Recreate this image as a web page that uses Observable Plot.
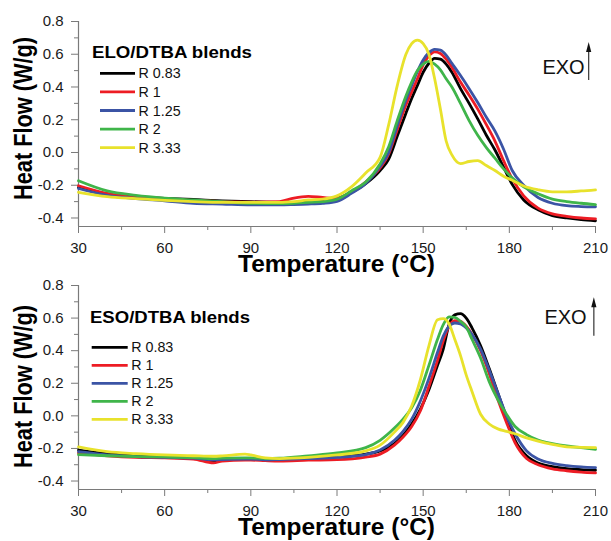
<!DOCTYPE html>
<html><head><meta charset="utf-8">
<script src="https://cdn.jsdelivr.net/npm/d3@7"></script>
<script src="https://cdn.jsdelivr.net/npm/@observablehq/plot@0.6"></script>
<style>
html,body{margin:0;padding:0;background:#fff;}
#wrap{position:relative;width:611px;height:541px;overflow:hidden;background:#fff;}
</style></head><body><div id="wrap"></div>
<script>
// ---------- data ----------
const series = ["R 0.83", "R 1", "R 1.25", "R 2", "R 3.33"];
const colors = ["#000000", "#ed1c24", "#3b54a5", "#3fb54a", "#e8e22c"];

const xTicks = [30, 60, 90, 120, 150, 180, 210];
const xMinor = [45, 75, 105, 135, 165, 195];
const yTicks = [-0.4, -0.2, 0.0, 0.2, 0.4, 0.6, 0.8];
const yMinor = [-0.3, -0.1, 0.1, 0.3, 0.5, 0.7];

// ELO/DTBA panel
const eloTemps = [30,40,50,60,70,80,90,100,105,110,115,120,125,130,135,138,141,144,146,148,150,152,154,156,158,160,163,166,169,172,175,178,181,185,190,195,200,205,210];
const eloR083 = [-0.213,-0.255,-0.272,-0.280,-0.287,-0.295,-0.300,-0.305,-0.305,-0.303,-0.298,-0.282,-0.245,-0.190,-0.110,-0.040,0.100,0.240,0.330,0.410,0.490,0.545,0.575,0.570,0.540,0.490,0.390,0.300,0.205,0.105,0.015,-0.090,-0.195,-0.290,-0.350,-0.385,-0.400,-0.410,-0.417];
const eloR1   = [-0.203,-0.250,-0.275,-0.285,-0.293,-0.300,-0.303,-0.300,-0.278,-0.268,-0.275,-0.280,-0.240,-0.180,-0.095,-0.010,0.140,0.290,0.370,0.450,0.535,0.590,0.615,0.605,0.570,0.520,0.430,0.350,0.265,0.170,0.070,-0.050,-0.160,-0.265,-0.340,-0.375,-0.390,-0.400,-0.405];
const eloR125 = [-0.220,-0.262,-0.282,-0.295,-0.310,-0.315,-0.320,-0.320,-0.318,-0.315,-0.310,-0.298,-0.250,-0.190,-0.085,0.000,0.165,0.320,0.410,0.495,0.565,0.610,0.630,0.625,0.595,0.545,0.470,0.390,0.305,0.215,0.130,0.020,-0.110,-0.200,-0.275,-0.310,-0.325,-0.330,-0.332];
const eloR2   = [-0.173,-0.235,-0.262,-0.279,-0.290,-0.300,-0.310,-0.312,-0.310,-0.305,-0.300,-0.285,-0.235,-0.180,-0.070,0.035,0.195,0.345,0.430,0.500,0.540,0.556,0.540,0.505,0.450,0.400,0.300,0.195,0.105,0.030,-0.035,-0.100,-0.155,-0.210,-0.252,-0.285,-0.300,-0.310,-0.318];
const eloR333 = [-0.243,-0.270,-0.282,-0.292,-0.300,-0.305,-0.305,-0.305,-0.300,-0.290,-0.285,-0.265,-0.210,-0.125,-0.030,0.170,0.410,0.600,0.665,0.686,0.665,0.600,0.450,0.265,0.070,-0.015,-0.068,-0.055,-0.050,-0.080,-0.110,-0.145,-0.170,-0.205,-0.228,-0.240,-0.240,-0.235,-0.228];

// ESO/DTBA panel
const esoTemps = [30,40,50,60,70,77,80,88,90,95,100,110,120,130,135,140,143,146,149,152,155,157,159,161,163,165,167,170,173,176,179,182,186,190,195,200,205,210];
const esoR083 = [-0.211,-0.232,-0.243,-0.250,-0.258,-0.277,-0.268,-0.262,-0.262,-0.268,-0.265,-0.260,-0.252,-0.235,-0.215,-0.170,-0.120,-0.050,0.040,0.160,0.310,0.410,0.560,0.620,0.627,0.600,0.540,0.430,0.290,0.140,-0.010,-0.150,-0.245,-0.290,-0.312,-0.324,-0.330,-0.334];
const esoR1   = [-0.227,-0.245,-0.255,-0.258,-0.265,-0.289,-0.278,-0.272,-0.272,-0.275,-0.277,-0.272,-0.269,-0.253,-0.235,-0.180,-0.130,-0.065,0.030,0.180,0.340,0.460,0.550,0.585,0.580,0.550,0.500,0.400,0.260,0.100,-0.040,-0.165,-0.262,-0.300,-0.325,-0.337,-0.345,-0.350];
const esoR125 = [-0.220,-0.240,-0.250,-0.255,-0.260,-0.270,-0.268,-0.265,-0.265,-0.270,-0.268,-0.262,-0.255,-0.238,-0.210,-0.150,-0.095,-0.020,0.090,0.230,0.390,0.490,0.550,0.570,0.565,0.540,0.500,0.410,0.280,0.140,0.000,-0.110,-0.215,-0.265,-0.292,-0.305,-0.313,-0.318];
const esoR2   = [-0.238,-0.245,-0.250,-0.252,-0.256,-0.262,-0.260,-0.258,-0.258,-0.262,-0.260,-0.245,-0.228,-0.195,-0.150,-0.075,-0.020,0.050,0.156,0.310,0.470,0.560,0.608,0.605,0.580,0.545,0.470,0.355,0.210,0.100,0.010,-0.065,-0.115,-0.148,-0.170,-0.185,-0.195,-0.205];
const esoR333 = [-0.191,-0.220,-0.232,-0.240,-0.245,-0.248,-0.246,-0.235,-0.240,-0.258,-0.262,-0.255,-0.240,-0.215,-0.180,-0.100,-0.040,0.060,0.220,0.430,0.590,0.597,0.565,0.470,0.370,0.250,0.150,0.010,-0.050,-0.080,-0.095,-0.110,-0.135,-0.155,-0.175,-0.190,-0.193,-0.195];

const panelTitles = ["ELO/DTBA blends", "ESO/DTBA blends"];
const xLabel = "Temperature (°C)";
const yLabel = "Heat Flow (W/g)";
const exoLabel = "EXO";

// ---------- drawing ----------
const FONT = "'Liberation Sans', Arial, Helvetica, sans-serif";
const AXIS = "#7a7a7a";
const yMin = -0.452;

function toRows(temps, lists) {
  const rows = [];
  series.forEach((s, i) => temps.forEach((t, j) => rows.push({T: t, v: lists[i][j], s})));
  return rows;
}

function makePanel(cfg) {
  const rows = toRows(cfg.temps, cfg.lists);
  const plot = Plot.plot({
    width: 611,
    height: cfg.height,
    marginLeft: 78,
    marginRight: 16,
    marginTop: cfg.marginTop,
    marginBottom: cfg.marginBottom,
    style: {fontFamily: FONT, fontSize: "15px", background: "transparent", overflow: "visible"},
    x: {domain: [30, 210]},
    y: {domain: [yMin, 0.8]},
    color: {domain: series, range: colors},
    marks: [
      Plot.axisX(xTicks, {tickSize: 7, tickPadding: 9, stroke: AXIS, fill: "#1a1a1a", label: null}),
      Plot.axisX(xMinor, {tickSize: 4, stroke: AXIS, fill: "none", label: null}),
      Plot.axisY(yTicks, {tickSize: 7, tickPadding: 8, stroke: AXIS, fill: "#1a1a1a", label: null, tickFormat: d => d.toFixed(1)}),
      Plot.axisY(yMinor, {tickSize: 4, stroke: AXIS, fill: "none", label: null}),
      Plot.ruleX([30], {stroke: AXIS, strokeWidth: 1.2}),
      Plot.ruleY([yMin], {stroke: AXIS, strokeWidth: 1.2}),
      Plot.line(rows, {x: "T", y: "v", z: "s", stroke: "s", strokeWidth: 2.8, curve: "monotone-x", strokeLinejoin: "round"})
    ]
  });
  const svg = d3.select(plot)
    .style("position", "absolute").style("left", "0px").style("top", cfg.top + "px")
    .style("overflow", "visible");
  const xs = plot.scale("x"), ys = plot.scale("y");
  const fx0 = 78, fx1 = 611 - 16;
  const fBottom = cfg.height - cfg.marginBottom;

  // x axis title
  svg.append("text")
    .attr("x", (fx0 + fx1) / 2).attr("y", fBottom + 45.5)
    .attr("text-anchor", "middle").attr("font-family", FONT)
    .attr("font-size", 24).attr("font-weight", "bold").attr("fill", "#000")
    .attr("textLength", 197).attr("lengthAdjust", "spacingAndGlyphs")
    .text(xLabel);
  // y axis title
  svg.append("text")
    .attr("transform", `translate(32,${cfg.yTitleY}) scale(1.15,1) rotate(-90)`)
    .attr("text-anchor", "middle").attr("font-family", FONT)
    .attr("font-size", 22).attr("font-weight", "bold").attr("fill", "#000")
    .attr("textLength", 163).attr("lengthAdjust", "spacingAndGlyphs")
    .text(yLabel);

  // legend
  const lg = svg.append("g").attr("text-anchor", "start");
  lg.append("text")
    .attr("x", cfg.legTitleX).attr("y", cfg.legTitleY).attr("text-anchor", "start")
    .attr("font-family", FONT).attr("font-size", 16.5).attr("font-weight", "bold").attr("fill", "#000")
    .attr("textLength", 160).attr("lengthAdjust", "spacingAndGlyphs")
    .text(cfg.title);
  series.forEach((s, i) => {
    const y = cfg.legY0 + i * cfg.legStep;
    lg.append("line").attr("x1", cfg.legX1).attr("x2", cfg.legX2).attr("y1", y).attr("y2", y)
      .attr("stroke", colors[i]).attr("stroke-width", 2.8);
    lg.append("text").attr("x", cfg.legX2 + 3.5).attr("y", y + 5).attr("text-anchor", "start")
      .attr("font-family", FONT).attr("font-size", 14.3).attr("fill", "#111").text(s);
  });

  // EXO arrow
  const ax = xs.apply(cfg.exo.arrowX), ay1 = ys.apply(cfg.exo.y1), ay2 = ys.apply(cfg.exo.y2);
  svg.append("line").attr("x1", ax).attr("x2", ax).attr("y1", ay1).attr("y2", ay2 + 6)
    .attr("stroke", "#333").attr("stroke-width", 1.2);
  svg.append("path").attr("d", `M${ax},${ay2} L${ax - 2.6},${ay2 + 10} L${ax + 2.6},${ay2 + 10} Z`)
    .attr("fill", "#111");
  svg.append("text").attr("x", xs.apply(cfg.exo.textX)).attr("y", ys.apply(cfg.exo.textY))
    .attr("text-anchor", "end").attr("font-family", FONT).attr("font-size", 20).attr("fill", "#111")
    .text(exoLabel);

  document.getElementById("wrap").appendChild(plot);
}

makePanel({
  temps: eloTemps, lists: [eloR083, eloR1, eloR125, eloR2, eloR333], title: panelTitles[0],
  top: 0, height: 290, marginTop: 21, marginBottom: 64, yTitleY: 118.5,
  legTitleX: 92, legTitleY: 57.5, legX1: 100, legX2: 135, legY0: 73.3, legStep: 18.6,
  exo: {arrowX: 207.8, y1: 0.44, y2: 0.672, textX: 206.4, textY: 0.479}
});
makePanel({
  temps: esoTemps, lists: [esoR083, esoR1, esoR125, esoR2, esoR333], title: panelTitles[1],
  top: 270, height: 271, marginTop: 15, marginBottom: 52, yTitleY: 116.5,
  legTitleX: 90, legTitleY: 52.7, legX1: 91.7, legX2: 127.7, legY0: 77.3, legStep: 18,
  exo: {arrowX: 209.6, y1: 0.489, y2: 0.725, textX: 207.1, textY: 0.561}
});
</script>
</body></html>
